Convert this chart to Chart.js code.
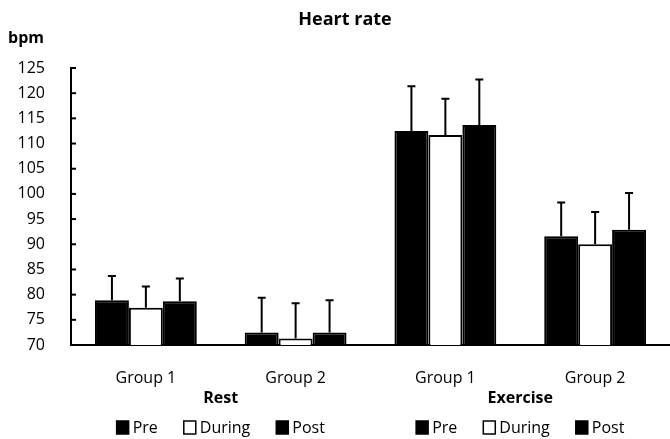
<!DOCTYPE html>
<html>
<head>
<meta charset="utf-8">
<script src="https://cdn.jsdelivr.net/npm/chart.js@4"></script>
<style>
  body { margin: 0; background: #fff; }
  canvas { display: block; }
</style>
</head>
<body>
<canvas id="heartChart" width="670" height="439"></canvas>
<script>
const categories = ["Group 1", "Group 2", "Group 1", "Group 2"];
const conditions = ["Rest", "Exercise"];
const seriesNames = ["Pre", "During", "Post"];
const preMeans = [78.9, 72.5, 112.5, 91.6];
const duringMeans = [77.4, 71.3, 111.7, 90.0];
const postMeans = [78.7, 72.5, 113.7, 92.9];
const preSD = [4.8, 6.9, 8.9, 6.7];
const duringSD = [4.2, 7.0, 7.2, 6.4];
const postSD = [4.5, 6.4, 9.0, 7.3];
const yTicks = [70, 75, 80, 85, 90, 95, 100, 105, 110, 115, 120, 125];

const FONT = "'Open Sans', sans-serif";
const fills = ["#000", "#fff", "#000"];

// upward error bars + inside y tick marks
const errorBars = {
    id: "errorBars",
    afterDatasetsDraw(chart) {
        const ctx = chart.ctx;
        const y = chart.scales.y;
        ctx.save();
        ctx.strokeStyle = "#000";
        ctx.lineWidth = 2;
        chart.data.datasets.forEach((ds, i) => {
            const meta = chart.getDatasetMeta(i);
            meta.data.forEach((bar, j) => {
                const top = y.getPixelForValue(ds.data[j] + ds.sd[j]);
                ctx.beginPath();
                ctx.moveTo(bar.x, bar.y);
                ctx.lineTo(bar.x, top);
                ctx.moveTo(bar.x - 4, top);
                ctx.lineTo(bar.x + 4, top);
                ctx.stroke();
            });
        });
        ctx.restore();
    }
};

const extras = {
    id: "extras",
    afterDraw(chart) {
        const ctx = chart.ctx;
        const x = chart.scales.x;
        const y = chart.scales.y;
        ctx.save();
        // tick marks pointing into the plot
        ctx.strokeStyle = "#000";
        ctx.lineWidth = 2;
        y.ticks.forEach(t => {
            const py = y.getPixelForValue(t.value);
            ctx.beginPath();
            ctx.moveTo(chart.chartArea.left, py);
            ctx.lineTo(chart.chartArea.left + 5, py);
            ctx.stroke();
        });

        ctx.fillStyle = "#000";
        ctx.textBaseline = "middle";
        ctx.textAlign = "center";
        ctx.font = "bold 18px " + FONT;
        ctx.fillText("Heart rate", 345, 20);
        ctx.textAlign = "left";
        ctx.font = "bold 16px " + FONT;
        ctx.fillText("bpm", 8, 38);

        conditions.forEach((c, k) => {
            const mid = (x.getPixelForValue(k * 2) + x.getPixelForValue(k * 2 + 1)) / 2;
            ctx.textAlign = "center";
            ctx.font = "bold 16px " + FONT;
            ctx.fillText(c, mid, 398);

            // legend row under each condition
            ctx.font = "16px " + FONT;
            const widths = seriesNames.map(n => 16 + ctx.measureText(n).width);
            const gap = 26;
            const total = widths.reduce((a, b) => a + b, 0) + gap * (seriesNames.length - 1);
            let px = mid - total / 2;
            seriesNames.forEach((n, i) => {
                ctx.fillStyle = fills[i];
                ctx.fillRect(px, 421, 12, 13);
                ctx.strokeStyle = "#000";
                ctx.lineWidth = 1.5;
                ctx.strokeRect(px, 421, 12, 13);
                ctx.fillStyle = "#000";
                ctx.textAlign = "left";
                ctx.fillText(n, px + 16, 428);
                px += widths[i] + gap;
            });
        });
        ctx.restore();
    }
};

const allMeans = [preMeans, duringMeans, postMeans];
const allSD = [preSD, duringSD, postSD];

new Chart(document.getElementById("heartChart"), {
    type: "bar",
    data: {
        labels: categories,
        datasets: seriesNames.map((name, i) => ({
            label: name,
            data: allMeans[i],
            sd: allSD[i],
            base: 70,
            backgroundColor: fills[i],
            borderColor: "#000",
            borderWidth: 2,
            barPercentage: 1.0,
            categoryPercentage: 0.68
        }))
    },
    options: {
        responsive: false,
        animation: false,
        layout: { padding: { top: 68, left: 0, right: 0, bottom: 0 } },
        plugins: {
            legend: { display: false },
            title: { display: false },
            tooltip: { enabled: false }
        },
        scales: {
            x: {
                grid: { display: false },
                border: { display: true, color: "#000", width: 2 },
                ticks: { color: "#000", font: { family: FONT, size: 16 }, padding: 16, maxRotation: 0 },
                afterFit(scale) { scale.height = 94; }
            },
            y: {
                min: 70,
                max: 125,
                grid: { display: false },
                border: { display: true, color: "#000", width: 2 },
                afterBuildTicks(scale) { scale.ticks = yTicks.map(v => ({ value: v })); },
                ticks: { color: "#000", font: { family: FONT, size: 16 }, padding: 18 },
                afterFit(scale) { scale.width = 71; }
            }
        }
    },
    plugins: [errorBars, extras]
});
</script>
</body>
</html>
